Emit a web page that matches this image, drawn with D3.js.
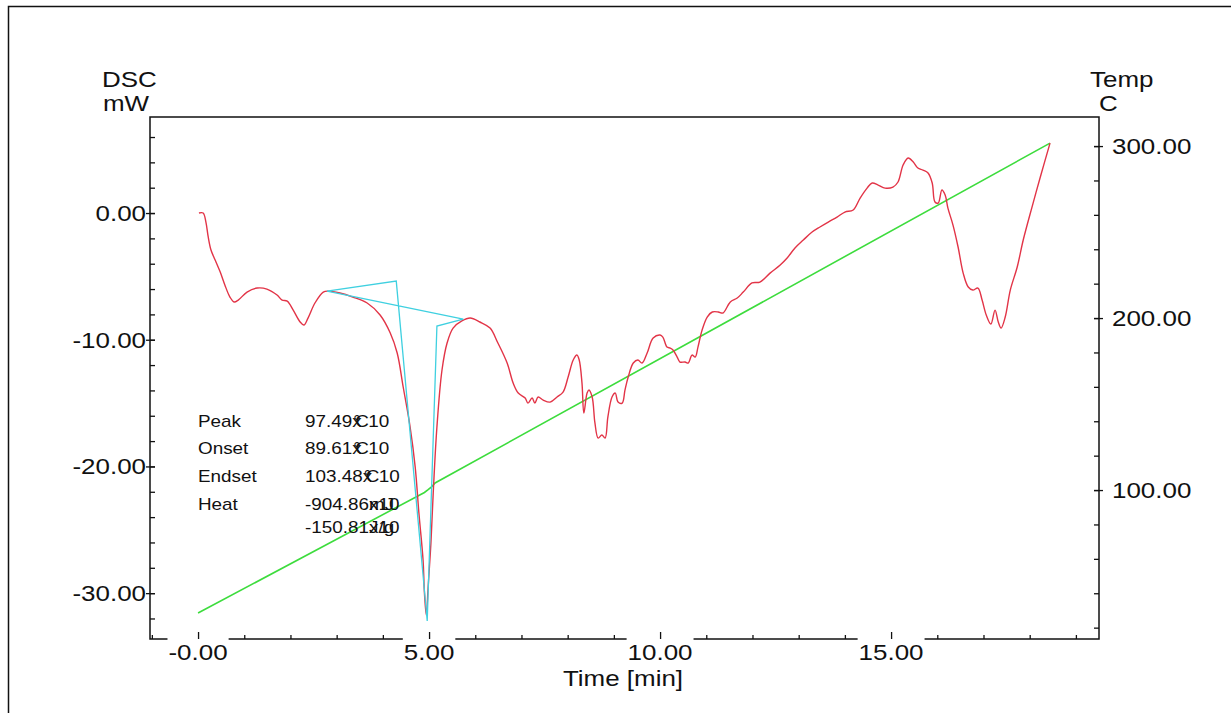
<!DOCTYPE html>
<html>
<head>
<meta charset="utf-8">
<script src="https://cdn.jsdelivr.net/npm/d3@7"></script>
<style>
    body { margin: 0; background: #fff; }
    svg text { font-family: "Liberation Sans", Arial, sans-serif; fill: #111; }
</style>
</head>
<body>
<div id="chart"></div>
<script>
// DSC trace (time in min, heat flow in mW)
var dscTime = [0.02, 0.11, 0.17, 0.22, 0.28, 0.37, 0.48, 0.58, 0.69, 0.78, 0.87, 1.06, 1.28, 1.49, 1.71, 1.82, 1.93, 2.06, 2.21, 2.29,
    2.38, 2.53, 2.71, 2.81, 3.07, 3.35, 3.66, 3.94, 4.16, 4.31, 4.44, 4.59, 4.70, 4.78, 4.87, 4.90, 4.94, 4.98, 5.04, 5.09,
    5.17, 5.28, 5.39, 5.52, 5.71, 5.89, 6.10, 6.32, 6.49, 6.69, 6.82, 6.93, 7.08, 7.14, 7.23, 7.29, 7.36, 7.47, 7.62, 7.77,
    7.90, 8.01, 8.12, 8.20, 8.25, 8.31, 8.35, 8.42, 8.46, 8.53, 8.59, 8.66, 8.74, 8.81, 8.87, 8.96, 9.03, 9.09, 9.18, 9.24,
    9.31, 9.42, 9.52, 9.61, 9.72, 9.85, 10.00, 10.06, 10.15, 10.22, 10.28, 10.37, 10.43, 10.54, 10.61, 10.69, 10.76, 10.82, 10.91, 11.02,
    11.13, 11.26, 11.36, 11.52, 11.67, 11.80, 11.99, 12.16, 12.38, 12.60, 12.75, 12.92, 13.10, 13.29, 13.46, 13.64, 13.83, 14.00, 14.18, 14.33,
    14.48, 14.59, 14.72, 14.87, 15.04, 15.15, 15.26, 15.37, 15.48, 15.58, 15.69, 15.80, 15.89, 15.95, 16.02, 16.10, 16.17, 16.23, 16.34, 16.45,
    16.56, 16.67, 16.77, 16.88, 16.97, 17.06, 17.16, 17.25, 17.32, 17.38, 17.47, 17.58, 17.73, 17.86, 18.05, 18.23, 18.44];
var dscValue = [0, 0, -0.71, -1.89, -2.92, -3.71, -4.66, -5.68, -6.63, -7.02, -6.87, -6.24, -5.92, -6.00, -6.47, -6.87, -6.95, -7.66, -8.60, -8.84,
    -8.29, -7.10, -6.24, -6.16, -6.31, -6.63, -7.10, -8.05, -9.47, -11.05, -13.73, -16.89, -20.05, -23.68, -27.39, -29.99, -31.73, -29.52, -26.05, -22.10,
    -16.89, -12.39, -10.26, -9.08, -8.52, -8.29, -8.60, -9.08, -10.26, -11.84, -13.42, -14.21, -14.60, -15.00, -14.60, -15.00, -14.52, -14.76, -14.92, -14.52,
    -14.13, -12.94, -11.60, -11.21, -11.60, -13.42, -15.79, -14.21, -13.97, -14.52, -16.57, -17.76, -17.52, -17.76, -16.10, -14.52, -14.21, -14.92, -15.00, -13.97,
    -12.94, -11.84, -11.60, -11.84, -11.05, -9.87, -9.63, -9.79, -10.58, -10.66, -10.81, -11.37, -11.76, -11.76, -11.84, -11.21, -11.37, -10.58, -9.23, -8.21,
    -7.81, -7.81, -7.89, -7.02, -6.71, -6.24, -5.52, -5.45, -4.74, -4.10, -3.55, -2.76, -2.13, -1.50, -1.10, -0.71, -0.32, 0.08, 0.24, 1.18,
    1.97, 2.37, 2.21, 1.97, 2.05, 2.45, 3.79, 4.34, 4.03, 3.55, 3.39, 3.16, 2.37, 0.87, 0.79, 1.82, 1.42, 0.39, -0.95, -2.68,
    -4.74, -5.84, -6.08, -5.92, -6.87, -8.05, -8.76, -7.66, -8.60, -9.08, -8.21, -6.08, -4.26, -2.13, 0.47, 2.84, 5.52];

// temperature program (C)
var tempTime = [0.0, 4.9, 4.98, 5.06, 5.13, 18.44];
var tempValue = [28.5, 98.6, 100.2, 102.0, 104.1, 301.7];

// peak analysis construction lines
var tangentTime = [2.79, 4.29, 4.96, 5.17, 5.74, 2.79];
var tangentValue = [-6.16, -5.37, -32.2, -8.92, -8.37, -6.16];

// axis ticks
var timeMajor = [0, 5, 10, 15];
var timeLabels = ['-0.00', '5.00', '10.00', '15.00'];
var dscMajor = [0, -10, -20, -30];
var dscLabels = ['0.00', '-10.00', '-20.00', '-30.00'];
var tempMajor = [100, 200, 300];
var tempLabels = ['100.00', '200.00', '300.00'];

// analysis results
var resultNames = ['Peak', 'Onset', 'Endset', 'Heat', ''];
var resultValues = ['97.49', '89.61', '103.48', '-904.86', '-150.81'];
var resultUnits = ['C', 'C', 'C', 'mJ', 'J/g'];

var width = 1231,
    height = 713,
    sx = 1.18;

var svg = d3.select('#chart')
    .append('svg')
    .attr('width', width)
    .attr('height', height);

var x = d3.scaleLinear().domain([-1.04, 19.5]).range([150, 1099]),
    y = d3.scaleLinear().domain([-33.62, 7.58]).range([639, 117]),
    yT = d3.scaleLinear().domain([13.4, 316.9]).range([639, 117]);

var addText = function (parent, str, tx, ty, size, anchor) {
    return parent.append('text')
        .attr('transform', 'translate(' + tx + ',' + ty + ') scale(' + sx + ',1)')
        .attr('text-anchor', anchor || 'start')
        .style('font-size', size + 'px')
        .text(str);
};

// outer frame
svg.append('path')
    .attr('d', 'M8.5,713 L8.5,6.5 L1231,6.5')
    .attr('fill', 'none')
    .attr('stroke', '#111')
    .attr('stroke-width', 1.5);

// plot frame
svg.append('rect')
    .attr('x', 150)
    .attr('y', 117)
    .attr('width', 949)
    .attr('height', 522)
    .attr('fill', 'none')
    .attr('stroke', '#111')
    .attr('stroke-width', 1.5);

// curves
var dscLine = d3.line()
    .x(function (d, i) { return x(dscTime[i]); })
    .y(function (d) { return y(d); })
    .curve(d3.curveCatmullRom.alpha(0.5));

var tempLine = d3.line()
    .x(function (d, i) { return x(tempTime[i]); })
    .y(function (d) { return yT(d); });

var tangentLine = d3.line()
    .x(function (d, i) { return x(tangentTime[i]); })
    .y(function (d) { return y(d); });

svg.append('path')
    .attr('d', tempLine(tempValue))
    .attr('fill', 'none')
    .attr('stroke', '#3ddc3d')
    .attr('stroke-width', 1.6);

svg.append('path')
    .attr('d', dscLine(dscValue))
    .attr('fill', 'none')
    .attr('stroke', '#e23447')
    .attr('stroke-width', 1.4);

svg.append('path')
    .attr('d', tangentLine(tangentValue))
    .attr('fill', 'none')
    .attr('stroke', '#3fd0e0')
    .attr('stroke-width', 1.3);

// x labels with white boxes that cut the axis line
var xLab = svg.append('g');
timeMajor.forEach(function (t, i) {
    var tx = x(t),
        txt = addText(xLab, timeLabels[i], tx, 660, 22, 'middle'),
        w = txt.node().getComputedTextLength() * sx;
    xLab.insert('rect', 'text')
        .attr('x', tx - w / 2 - 1)
        .attr('y', 637.5)
        .attr('width', w + 2)
        .attr('height', 26)
        .attr('fill', '#fff');
});

// ticks
var minorTime = d3.range(-1, 20, 1).filter(function (d) { return d % 5 !== 0; });
svg.append('g')
    .attr('transform', 'translate(0,639)')
    .call(d3.axisBottom(x).tickValues(minorTime).tickSize(-4).tickFormat(''))
    .call(function (g) { g.select('.domain').remove(); });
svg.append('g')
    .attr('transform', 'translate(0,639)')
    .call(d3.axisBottom(x).tickValues(timeMajor).tickSize(-7).tickFormat(''))
    .call(function (g) { g.select('.domain').remove(); });

svg.append('g')
    .attr('transform', 'translate(150,0)')
    .call(d3.axisLeft(y).tickValues(d3.range(-32, 8, 2)).tickSize(-5).tickFormat(''))
    .call(function (g) { g.select('.domain').remove(); });
svg.append('g')
    .attr('transform', 'translate(155,0)')
    .call(d3.axisLeft(y).tickValues(dscMajor).tickSize(9).tickFormat(''))
    .call(function (g) { g.select('.domain').remove(); });

svg.append('g')
    .attr('transform', 'translate(1099,0)')
    .call(d3.axisRight(yT).tickValues(d3.range(20, 320, 20)).tickSize(-5).tickFormat(''))
    .call(function (g) { g.select('.domain').remove(); });
svg.append('g')
    .attr('transform', 'translate(1094,0)')
    .call(d3.axisRight(yT).tickValues(tempMajor).tickSize(9).tickFormat(''))
    .call(function (g) { g.select('.domain').remove(); });

svg.selectAll('.tick line').attr('stroke', '#111').attr('stroke-width', 1.3);

// y labels
dscMajor.forEach(function (v, i) {
    addText(svg, dscLabels[i], 146, y(v) + 8, 22, 'end');
});
tempMajor.forEach(function (v, i) {
    addText(svg, tempLabels[i], 1112, yT(v) + 8, 22, 'start');
});

// axis titles
addText(svg, 'DSC', 102, 87, 22);
addText(svg, 'mW', 103, 111, 22);
addText(svg, 'Temp', 1090, 87, 22);
addText(svg, 'C', 1099, 111, 22);
addText(svg, 'Time  [min]', 623, 686, 22, 'middle');

// analysis results block (the instrument printout overprints unit and x10)
var rows = [427, 454, 482, 510, 533];
resultNames.forEach(function (name, i) {
    if (name) {
        addText(svg, name, 198, rows[i], 16);
    }
    var val = addText(svg, resultValues[i], 305, rows[i], 16),
        end = 305 + val.node().getComputedTextLength() * sx;
    if (resultUnits[i] === 'C') {
        addText(svg, 'x', end, rows[i], 16);
        addText(svg, '\u00b0', end + 1, rows[i], 16);
        addText(svg, 'C', end + 3, rows[i], 16);
        addText(svg, '10', end + 16, rows[i], 16);
    } else {
        addText(svg, resultUnits[i], end, rows[i], 16);
        addText(svg, 'x10', end, rows[i], 16);
    }
});
</script>
</body>
</html>
